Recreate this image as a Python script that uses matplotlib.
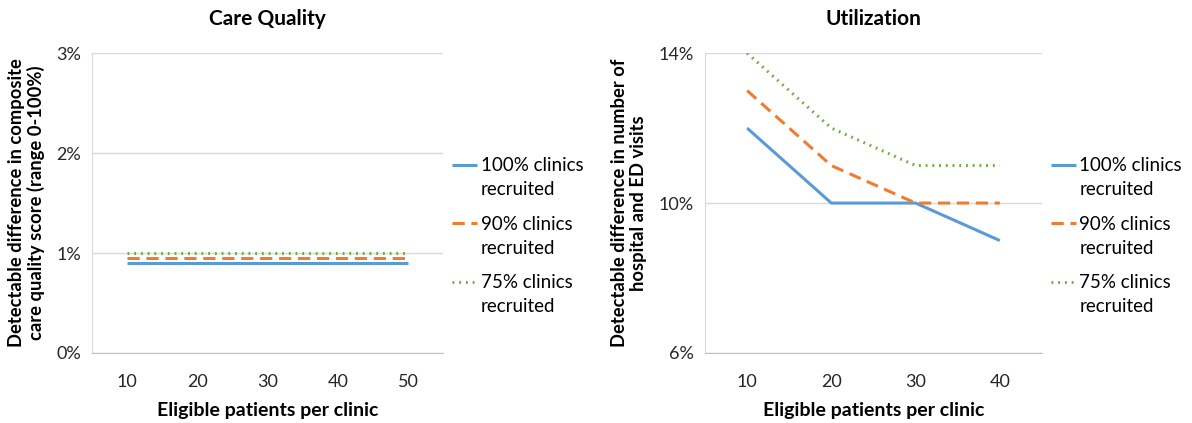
import numpy as np
import matplotlib.pyplot as plt
from matplotlib.ticker import FuncFormatter
from matplotlib.legend_handler import HandlerLine2D

plt.rcParams['font.family'] = ['Lato', 'DejaVu Sans']

# data
series_labels = ['100% clinics\nrecruited', '90% clinics\nrecruited', '75% clinics\nrecruited']

quality_x = ['10', '20', '30', '40', '50']
quality_100 = [0.9, 0.9, 0.9, 0.9, 0.9]
quality_90 = [0.95, 0.95, 0.95, 0.95, 0.95]
quality_75 = [1.0, 1.0, 1.0, 1.0, 1.0]

util_x = ['10', '20', '30', '40']
util_100 = [12, 10, 10, 9]
util_90 = [13, 11, 10, 10]
util_75 = [14, 12, 11, 11]

colors = ['#5B9BD5', '#ED7D31', '#70AD47']
styles = [dict(linestyle='-'), dict(linestyle=(0, (4, 2.2))), dict(linestyle=(0, (0.6, 1.6)))]


class TopLine(HandlerLine2D):
    # put the legend line next to the first text line, like Excel does
    def create_artists(self, legend, orig_handle, xdescent, ydescent,
                       width, height, fontsize, trans):
        arts = super().create_artists(legend, orig_handle, xdescent, ydescent,
                                      width, height, fontsize, trans)
        for a in arts:
            a.set_ydata(np.asarray(a.get_ydata()) + 0.7 * fontsize)
        return arts


def draw(ax, cats, series, ylim, yticks, title, ylabel):
    x = np.arange(len(cats))
    for vals, c, st, lab in zip(series, colors, styles, series_labels):
        ax.plot(x, vals, color=c, lw=2.2, label=lab, solid_capstyle='butt',
                dash_capstyle='butt', **st)
    ax.set_xlim(-0.5, len(cats) - 0.5)
    ax.set_xticks(x)
    ax.set_xticklabels(cats)
    ax.set_ylim(*ylim)
    ax.set_yticks(yticks)
    ax.yaxis.set_major_formatter(FuncFormatter(lambda v, p: f'{v:.0f}%'))
    ax.grid(axis='y', color='#D9D9D9', lw=1)
    ax.set_axisbelow(True)
    for s in ['top', 'right']:
        ax.spines[s].set_visible(False)
    ax.spines['left'].set_color('#D9D9D9')
    ax.spines['bottom'].set_color('#BFBFBF')
    ax.tick_params(length=0, labelsize=13, colors='#262626', pad=8)
    ax.tick_params(axis='x', pad=15)
    ax.set_title(title, fontsize=15, fontweight='bold', color='black', pad=20)
    ax.set_xlabel('Eligible patients per clinic', fontsize=14, fontweight='bold', labelpad=9)
    ax.set_ylabel(ylabel, fontsize=13.2, fontweight='bold', labelpad=8, linespacing=1.15)
    leg = ax.legend(loc='center left', bbox_to_anchor=(1.0, 0.39), frameon=False,
                    fontsize=13.5, handlelength=1.3, handletextpad=0.2, labelspacing=0.95,
                    borderaxespad=0.1, handler_map={plt.Line2D: TopLine()})
    for t in leg.get_texts():
        t.set_linespacing(1.5)


fig = plt.figure(figsize=(11.92, 4.23), dpi=100)
ax1 = fig.add_axes([0.0772, 0.1655, 0.2945, 0.709])
ax2 = fig.add_axes([0.5914, 0.1655, 0.2827, 0.709])

draw(ax1, quality_x, [quality_100, quality_90, quality_75], (0, 3), [0, 1, 2, 3],
     'Care Quality', 'Detectable difference in composite\ncare quality score (range 0-100%)')
draw(ax2, util_x, [util_100, util_90, util_75], (6, 14), [6, 10, 14],
     'Utilization', 'Detectable difference in number of\nhospital and ED visits')

fig.savefig('out.png', dpi=100)
